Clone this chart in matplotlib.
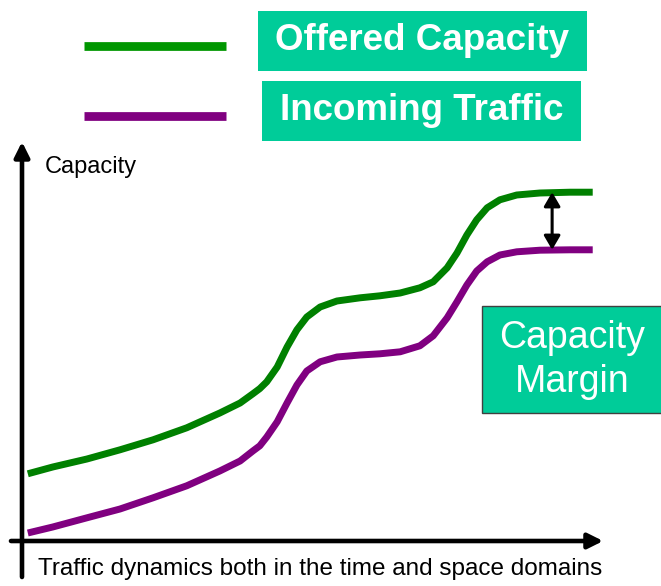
import matplotlib.pyplot as plt
from matplotlib.patches import Rectangle
from matplotlib.lines import Line2D

plt.rcParams['font.family'] = ['Liberation Sans', 'DejaVu Sans']

# schematic data (arbitrary units)
t = [0.10, 0.53, 1.12, 1.69, 2.26, 2.84, 3.41, 3.76, 3.98, 4.10, 4.22, 4.40,
     4.57, 4.74, 4.91, 5.14, 5.43, 5.83, 6.17, 6.52, 6.86, 7.09, 7.33, 7.50,
     7.67, 7.84, 8.02, 8.24, 8.53, 8.93, 9.45, 9.84]
offered = [1.68, 1.85, 2.05, 2.28, 2.53, 2.83, 3.20, 3.45, 3.68, 3.81, 3.98, 4.35,
           4.85, 5.28, 5.60, 5.85, 6.00, 6.08, 6.13, 6.20, 6.33, 6.48, 6.83, 7.20,
           7.65, 8.03, 8.33, 8.53, 8.65, 8.70, 8.72, 8.72]
incoming = [0.20, 0.35, 0.58, 0.80, 1.08, 1.38, 1.75, 2.00, 2.25, 2.38, 2.60, 2.98,
            3.45, 3.90, 4.25, 4.48, 4.60, 4.65, 4.68, 4.73, 4.88, 5.13, 5.58, 5.98,
            6.40, 6.75, 6.98, 7.15, 7.23, 7.27, 7.28, 7.28]
margin_t = 9.14
labels = ['Offered Capacity', 'Incoming Traffic']

green = '#008000'
purple = '#800080'
teal = '#00CC99'

fig = plt.figure(figsize=(6.61, 5.86), dpi=100)
ax = fig.add_axes([0, 0, 1, 1])
ax.set_xlim(-22 / 58, 639 / 58)
ax.set_ylim(-45 / 40, 541 / 40)
ax.axis('off')

# axes with arrow heads
head = '-|>,head_length=0.6,head_width=0.3'
ax.annotate('', xy=(0, 9.98), xytext=(0, -0.9),
            arrowprops=dict(arrowstyle=head, lw=3.3, color='black',
                            mutation_scale=15, shrinkA=0, shrinkB=0))
ax.annotate('', xy=(10.02, 0), xytext=(-0.19, 0),
            arrowprops=dict(arrowstyle=head, lw=3.3, color='black',
                            mutation_scale=15, shrinkA=0, shrinkB=0))

# curves
ax.plot(t, offered, color=green, lw=5, solid_capstyle='butt', solid_joinstyle='round')
ax.plot(t, incoming, color=purple, lw=5, solid_capstyle='butt', solid_joinstyle='round')

# margin arrow between the two plateaus
ax.annotate('', xy=(margin_t, offered[-1]), xytext=(margin_t, incoming[-1]),
            arrowprops=dict(arrowstyle='<|-|>,head_length=0.6,head_width=0.35',
                            lw=2.2, color='black', mutation_scale=14,
                            shrinkA=0, shrinkB=0))

# axis labels
fig.text(45 / 661, 1 - 167 / 586, 'Capacity', fontsize=17, va='center', ha='left')
fig.text(38 / 661, 1 - 569 / 586, 'Traffic dynamics both in the time and space domains',
         fontsize=17.5, va='center', ha='left')

# legend
legend_y = [1 - 46 / 586, 1 - 116 / 586]
boxes = [(258, 11, 587, 71), (262, 81, 581, 141)]
for lab, col, ly, (x0, y0, x1, y1) in zip(labels, ['#009600', purple], legend_y, boxes):
    fig.add_artist(Line2D([84 / 661, 226 / 661], [ly, ly], color=col, lw=6.3,
                          solid_capstyle='butt', transform=fig.transFigure))
    fig.add_artist(Rectangle((x0 / 661, 1 - y1 / 586), (x1 - x0) / 661, (y1 - y0) / 586,
                             facecolor=teal, edgecolor='none', transform=fig.transFigure))
    fig.text((x0 + x1) / 2 / 661, 1 - (y0 + y1) / 2 / 586, lab, color='white',
             fontsize=26.5, fontweight='bold', ha='center', va='center')

# capacity margin box
fig.add_artist(Rectangle((482 / 661, 1 - 413 / 586), 0.3, 107 / 586,
                         facecolor=teal, edgecolor='#404040', lw=1,
                         transform=fig.transFigure))
fig.text(572 / 661, 1 - 360 / 586, 'Capacity\nMargin', color='white', fontsize=27,
         ha='center', va='center', linespacing=1.3)

fig.savefig('out.png', dpi=100)
